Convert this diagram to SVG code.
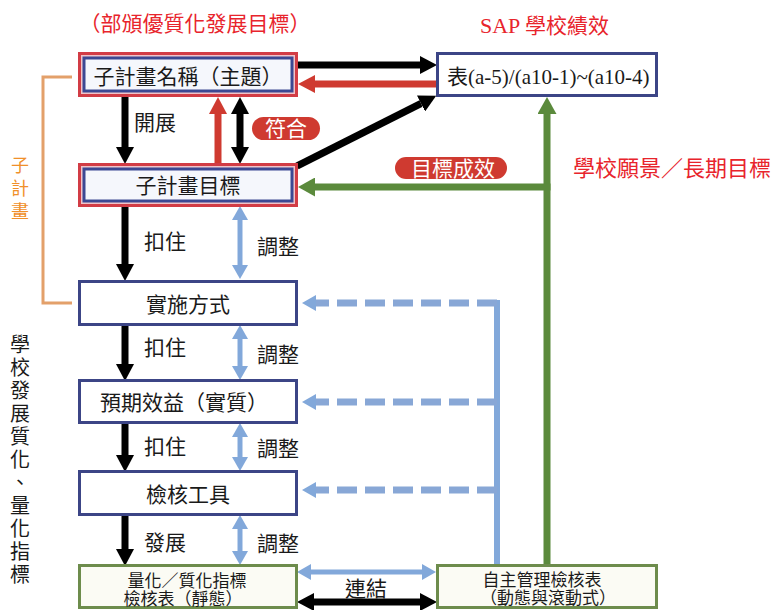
<svg xmlns="http://www.w3.org/2000/svg" width="778" height="610" viewBox="0 0 778 610">
<style>
text{font-family:"Noto Sans CJK TC","Noto Sans CJK SC",sans-serif;fill:#1a1a1a}
.t{font-size:21px;text-anchor:middle}
.s{font-size:17px;text-anchor:middle}
.lab{font-size:21px}
.red{fill:#e8242c}
.wt{fill:#ffffff;font-size:21px;text-anchor:middle}
.ser{font-family:"Liberation Serif","Noto Sans CJK TC",serif}
.vert{writing-mode:vertical-rl;text-orientation:upright}
.outer{fill:#efc3c9;stroke:#d23c45;stroke-width:3}
.inner{fill:#f5f7fc;stroke:#3c4893;stroke-width:3}
.bx{fill:#ffffff;stroke:#3c4586;stroke-width:3}
.gb{fill:#fbfbf4;stroke:#6d8c4c;stroke-width:3}
.pill{fill:#cf3a30}
.k{stroke:#000;stroke-width:7;fill:none}
.r{stroke:#cf3a30;stroke-width:7;fill:none}
.g{stroke:#5b8a3c;stroke-width:7;fill:none}
.b{stroke:#82a8da;stroke-width:5;fill:none}
.bd{stroke:#88a7d6;stroke-width:7;fill:none;stroke-dasharray:20 8}
.bv{stroke:#82a8da;stroke-width:6;fill:none}
</style>
<defs>
<marker id="mk" markerUnits="userSpaceOnUse" markerWidth="17" markerHeight="18" viewBox="0 0 17 18" refX="0" refY="9" orient="auto-start-reverse"><path d="M0,0 L17,9 L0,18 z" fill="#000"/></marker>
<marker id="mr" markerUnits="userSpaceOnUse" markerWidth="17" markerHeight="18" viewBox="0 0 17 18" refX="0" refY="9" orient="auto-start-reverse"><path d="M0,0 L17,9 L0,18 z" fill="#cf3a30"/></marker>
<marker id="mg" markerUnits="userSpaceOnUse" markerWidth="17" markerHeight="19" viewBox="0 0 17 19" refX="0" refY="9.5" orient="auto-start-reverse"><path d="M0,0 L17,9.5 L0,19 z" fill="#5b8a3c"/></marker>
<marker id="mb" markerUnits="userSpaceOnUse" markerWidth="14" markerHeight="16" viewBox="0 0 14 16" refX="0" refY="8" orient="auto-start-reverse"><path d="M0,0 L14,8 L0,16 z" fill="#82a8da"/></marker>
</defs>

<!-- titles -->
<text class="t red" x="195" y="31">（部頒優質化發展目標）</text>
<text class="red" x="480" y="33" font-size="21"><tspan class="ser" font-size="22">SAP</tspan> 學校績效</text>
<text class="red" x="573" y="176" font-size="22">學校願景／長期目標</text>
<text class="vert" x="20" y="156" font-size="18" letter-spacing="5" style="fill:#f0902a">子計畫</text>
<text class="vert" x="20" y="334" font-size="20" letter-spacing="3">學校發展質化、量化指標</text>

<g id="connectors">
<path d="M72,77 H43 V303 H72" stroke="#e3a06a" stroke-width="3" fill="none"/>
<!-- black down arrows -->
<path class="k" d="M125,97 V147" marker-end="url(#mk)"/>
<path class="k" d="M125,207 V264" marker-end="url(#mk)"/>
<path class="k" d="M125,325 V364" marker-end="url(#mk)"/>
<path class="k" d="M125,423 V455" marker-end="url(#mk)"/>
<path class="k" d="M125,515 V549" marker-end="url(#mk)"/>
<!-- red up, black double -->
<path class="r" d="M218,163 V114" marker-end="url(#mr)"/>
<path class="k" d="M240,114 V147" marker-start="url(#mk)" marker-end="url(#mk)"/>
<!-- blue adjust double arrows -->
<path class="b" d="M240,220 V265" marker-start="url(#mb)" marker-end="url(#mb)"/>
<path class="b" d="M240,339 V366" marker-start="url(#mb)" marker-end="url(#mb)"/>
<path class="b" d="M240,437 V457" marker-start="url(#mb)" marker-end="url(#mb)"/>
<path class="b" d="M240,529 V551" marker-start="url(#mb)" marker-end="url(#mb)"/>
<!-- top horizontals -->
<path class="k" d="M298,65 H420" marker-end="url(#mk)"/>
<path class="r" d="M436,84 H315" marker-end="url(#mr)"/>
<path class="k" d="M297,166 L421,103.5" marker-end="url(#mk)"/>
<!-- green -->
<path class="g" d="M547,564 V114" marker-end="url(#mg)"/>
<path class="g" d="M550.5,187 H315" marker-end="url(#mg)"/>
<!-- blue dashed -->
<path class="bv" d="M497,300 V564"/>
<path class="bd" d="M497,303 H316" marker-end="url(#mb)"/>
<path class="bd" d="M497,402 H316" marker-end="url(#mb)"/>
<path class="bd" d="M497,490 H316" marker-end="url(#mb)"/>
<!-- bottom links -->
<path class="b" d="M311,572 H422" marker-start="url(#mb)" marker-end="url(#mb)"/>
<path class="k" d="M314,602 H420" marker-start="url(#mk)" marker-end="url(#mk)"/>
</g>

<!-- labels -->
<g id="labels">
<text class="lab" x="134" y="130">開展</text>
<text class="lab" x="144" y="249">扣住</text>
<text class="lab" x="257" y="254">調整</text>
<text class="lab" x="144" y="355">扣住</text>
<text class="lab" x="257" y="362">調整</text>
<text class="lab" x="144" y="454">扣住</text>
<text class="lab" x="257" y="456">調整</text>
<text class="lab" x="144" y="550">發展</text>
<text class="lab" x="257" y="551">調整</text>
<text class="lab" x="345" y="596">連結</text>
<rect class="pill" x="252" y="117" width="68" height="23" rx="11.5"/>
<text class="wt" x="286" y="136">符合</text>
<rect class="pill" x="395" y="157" width="112" height="22" rx="11"/>
<text class="wt" x="453" y="176">目標成效</text>
</g>

<g id="n1">
<rect class="outer" x="79.5" y="53.5" width="217" height="42"/>
<rect class="inner" x="84" y="58" width="208" height="33"/>
<text class="t" x="188" y="84">子計畫名稱（主題）</text>
</g>
<g id="n2">
<rect class="outer" x="79.5" y="164.5" width="217" height="41"/>
<rect class="inner" x="84" y="169" width="208" height="32"/>
<text class="t" x="188" y="193">子計畫目標</text>
</g>
<g id="n3">
<rect class="bx" x="79.5" y="281.5" width="217" height="43"/>
<text class="t" x="188" y="312">實施方式</text>
</g>
<g id="n4">
<rect class="bx" x="79.5" y="380.5" width="217" height="42"/>
<text class="t" x="184" y="410">預期效益（實質）</text>
</g>
<g id="n5">
<rect class="bx" x="79.5" y="471.5" width="217" height="43"/>
<text class="t" x="188" y="502">檢核工具</text>
</g>
<g id="n6">
<rect class="gb" x="79.5" y="565.5" width="217" height="42"/>
<text class="s" x="187" y="587">量化／質化指標</text>
<text class="s" x="183" y="605">檢核表（靜態）</text>
</g>
<g id="n7">
<rect class="bx" x="437.5" y="53.5" width="219" height="42"/>
<text class="ser" x="447" y="84" font-size="21">表(a-5)/(a10-1)~(a10-4)</text>
</g>
<g id="n8">
<rect class="gb" x="437.5" y="565.5" width="219" height="42"/>
<text class="s" x="542" y="586">自主管理檢核表</text>
<text class="s" x="548" y="604">（動態與滾動式）</text>
</g>
</svg>
